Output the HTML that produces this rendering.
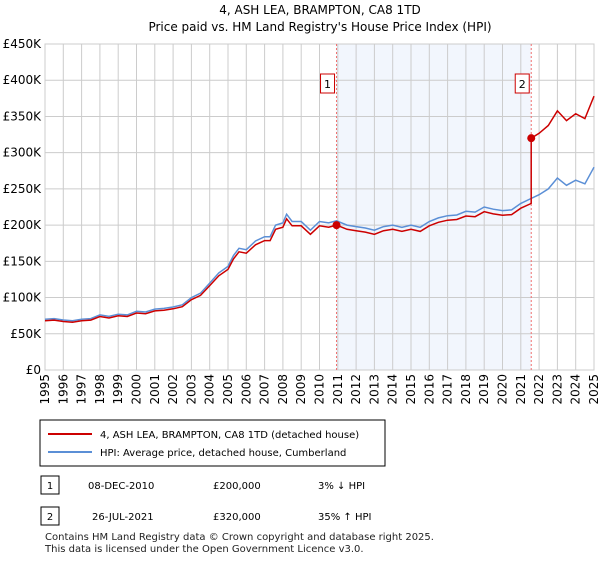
<!DOCTYPE html>
<html><head><meta charset="utf-8"><style>
body{margin:0;background:#fff;font-family:"Liberation Sans","DejaVu Sans",sans-serif}
</style></head><body>
<svg width="600" height="560" viewBox="0 0 600 560" style="font-family:'DejaVu Sans','Liberation Sans',sans-serif">
<text x="320" y="14" text-anchor="middle" font-size="12">4, ASH LEA, BRAMPTON, CA8 1TD</text>
<text x="320" y="31" text-anchor="middle" font-size="12">Price paid vs. HM Land Registry's House Price Index (HPI)</text>
<g id="plot"></g>
<rect x="40" y="420" width="345" height="46" fill="#fff" stroke="#000"/>
<line x1="48" y1="434" x2="92" y2="434" stroke="#cc0000" stroke-width="2"/>
<text x="100" y="438" font-size="10">4, ASH LEA, BRAMPTON, CA8 1TD (detached house)</text>
<line x1="48" y1="452" x2="92" y2="452" stroke="#5b8fd6" stroke-width="2"/>
<text x="100" y="456" font-size="10">HPI: Average price, detached house, Cumberland</text>
<g font-size="10">
<rect x="41" y="476" width="18" height="18" fill="#fff" stroke="#000"/><text x="50" y="489" text-anchor="middle">1</text>
<text x="88" y="489">08-DEC-2010</text><text x="213" y="489">£200,000</text><text x="318" y="489">3% ↓ HPI</text></g>
<g font-size="10">
<rect x="41" y="507" width="18" height="18" fill="#fff" stroke="#000"/><text x="50" y="520" text-anchor="middle">2</text>
<text x="92" y="520">26-JUL-2021</text><text x="213" y="520">£320,000</text><text x="318" y="520">35% ↑ HPI</text></g>
<text x="45" y="540" font-size="10" fill="#222">Contains HM Land Registry data © Crown copyright and database right 2025.</text>
<text x="45" y="552" font-size="10" fill="#222">This data is licensed under the Open Government Licence v3.0.</text>
</svg>
<script>
const hpiYears=[1995,1995.5,1996,1996.5,1997,1997.5,1998,1998.5,1999,1999.5,2000,2000.5,2001,2001.5,2002,2002.5,2003,2003.5,2004,2004.5,2005,2005.3,2005.6,2006,2006.5,2007,2007.3,2007.6,2008,2008.2,2008.5,2009,2009.5,2010,2010.5,2010.93,2011.5,2012,2012.5,2013,2013.5,2014,2014.5,2015,2015.5,2016,2016.5,2017,2017.5,2018,2018.5,2019,2019.5,2020,2020.5,2021,2021.5,2022,2022.5,2023,2023.5,2024,2024.5,2025];
const hpiValues=[70,71,69,68,70,71,76,74,77,76,81,80,84,85,87,90,100,106,120,134,143,158,168,166,178,184,184,200,203,215,205,205,193,205,203,206,200,198,196,193,198,200,197,200,197,205,210,213,214,219,218,225,222,220,221,230,236,242,250,265,255,262,257,280];
const saleYears=[2010.93,2021.57];
const salePrices=[200,320];
const saleHpi=[206,237];
const yTicks=[0,50,100,150,200,250,300,350,400,450];
const yTickLabels=["£0","£50K","£100K","£150K","£200K","£250K","£300K","£350K","£400K","£450K"];
const xTicks=[1995,1996,1997,1998,1999,2000,2001,2002,2003,2004,2005,2006,2007,2008,2009,2010,2011,2012,2013,2014,2015,2016,2017,2018,2019,2020,2021,2022,2023,2024,2025];
const X0=45,X1=594,Y0=370,Y1=44;
const xs=y=>X0+(y-1995)/30*(X1-X0);
const ys=v=>Y0-v/450*(Y0-Y1);
const NS="http://www.w3.org/2000/svg";
const g=document.getElementById('plot');
function mk(t,a,p){const e=document.createElementNS(NS,t);for(const k in a)e.setAttribute(k,a[k]);(p||g).appendChild(e);return e;}
let sh=mk('rect',{x:xs(saleYears[0]),y:Y1,width:xs(saleYears[1])-xs(saleYears[0]),height:Y0-Y1,fill:'#f2f6fd'});


yTicks.forEach((v,i)=>{
 let l=mk('line',{x1:X0,x2:X1,y1:ys(v),y2:ys(v),stroke:'#ccc'});
 
 
 let t=mk('text',{x:X0-4,y:ys(v)+4,'text-anchor':'end','font-size':12});
 t.textContent=yTickLabels[i];
 
 
});
xTicks.forEach(v=>{
 let l=mk('line',{x1:xs(v),x2:xs(v),y1:Y1,y2:Y0,stroke:'#ccc'});
 
 
 let t=mk('text',{x:0,y:0,'text-anchor':'end','font-size':12,transform:`translate(${xs(v)+4},${Y0+4}) rotate(-90)`});
 t.textContent=v;
 
 
});
let bx=mk('rect',{x:X0,y:Y1,width:X1-X0,height:Y0-Y1,fill:'none',stroke:'#ccc'});


saleYears.forEach((y,i)=>{
 let l=mk('line',{x1:xs(y),x2:xs(y),y1:Y1,y2:Y0,stroke:'#f07070','stroke-dasharray':'2,2'});
 
 
 let r=mk('rect',{x:xs(y)-16,y:74,width:14,height:19,fill:'#fff',stroke:'#cc0000'});
 
 
 let t=mk('text',{x:xs(y)-9,y:88,'text-anchor':'middle','font-size':11});
 t.textContent=i+1;
 
 
});
function ratio(y){if(y<saleYears[1])return salePrices[0]/saleHpi[0];return salePrices[1]/saleHpi[1];}
let hp=hpiYears.map((y,i)=>`${xs(y).toFixed(1)},${ys(hpiValues[i]).toFixed(1)}`).join(' ');
let hl=mk('polyline',{points:hp,fill:'none',stroke:'#5b8fd6','stroke-width':1.5});


let pts=[];
hpiYears.forEach((y,i)=>{
 if(y>saleYears[1]&&hpiYears[i-1]<=saleYears[1]){
  pts.push([saleYears[1],saleHpi[1]*salePrices[0]/saleHpi[0]]);
  pts.push([saleYears[1],salePrices[1]]);
 }
 pts.push([y,hpiValues[i]*ratio(y)]);
});
let pl=mk('polyline',{points:pts.map(p=>`${xs(p[0]).toFixed(1)},${ys(p[1]).toFixed(1)}`).join(' '),fill:'none',stroke:'#cc0000','stroke-width':1.5});


saleYears.forEach((y,i)=>{
 let c=mk('circle',{cx:xs(y),cy:ys(salePrices[i]),r:4,fill:'#cc0000'});
 
 
});
</script>
</body></html>
